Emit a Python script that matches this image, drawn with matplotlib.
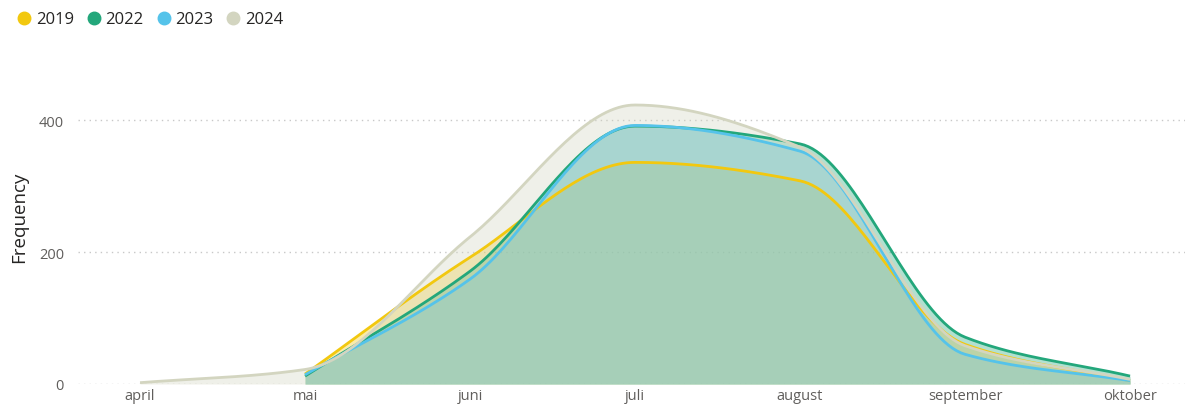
import numpy as np
import matplotlib.pyplot as plt
from matplotlib.lines import Line2D

plt.rcParams['font.family'] = ['Open Sans', 'DejaVu Sans']

months = ['april', 'mai', 'juni', 'juli', 'august', 'september', 'oktober']
years = ['2019', '2022', '2023', '2024']
freq_2019 = [np.nan, 15, 192, 336, 308, 60, 5]
freq_2022 = [np.nan, 12, 171, 391, 364, 71, 12]
freq_2023 = [np.nan, 14, 159, 392, 353, 45, 5]
freq_2024 = [2, 22, 223, 423, 359, 58, 7]
colors = ['#F2C80F', '#23A77B', '#55C3EA', '#D3D5C0']


def pchip(x, y, n=40):
    # monotone cubic for a smooth line like the original
    x = np.asarray(x, float)
    y = np.asarray(y, float)
    h = np.diff(x)
    d = np.diff(y) / h
    m = np.zeros_like(y)
    m[0], m[-1] = d[0], d[-1]
    for i in range(1, len(y) - 1):
        if d[i - 1] * d[i] > 0:
            w1 = 2 * h[i] + h[i - 1]
            w2 = h[i] + 2 * h[i - 1]
            m[i] = (w1 + w2) / (w1 / d[i - 1] + w2 / d[i])
    xs, ys = [], []
    for i in range(len(x) - 1):
        t = np.linspace(0, 1, n, endpoint=(i == len(x) - 2))
        h00 = 2 * t**3 - 3 * t**2 + 1
        h10 = t**3 - 2 * t**2 + t
        h01 = -2 * t**3 + 3 * t**2
        h11 = t**3 - t**2
        xs.append(x[i] + t * h[i])
        ys.append(h00 * y[i] + h10 * h[i] * m[i] + h01 * y[i + 1] + h11 * h[i] * m[i + 1])
    return np.concatenate(xs), np.concatenate(ys)


fig = plt.figure(figsize=(11.89, 4.14), dpi=100)
ax = fig.add_axes([78 / 1189, 29 / 414, 1107 / 1189, 310 / 414])

series = [freq_2019, freq_2022, freq_2023, freq_2024]
curves = []
for vals in series:
    v = np.array(vals, float)
    idx = np.arange(len(months))
    ok = ~np.isnan(v)
    curves.append(pchip(idx[ok], v[ok]))

for (xs, ys), c in zip(curves, colors):
    ax.fill_between(xs, 0, ys, color=c, alpha=0.35, lw=0, zorder=1)
for (xs, ys), c in zip(curves, colors):
    ax.plot(xs, ys, color=c, lw=2, zorder=3, solid_capstyle='butt')

ax.set_xlim(-0.376, 6.333)
ax.set_ylim(0, 470)
ax.set_yticks([0, 200, 400])
ax.set_xticks(range(len(months)))
ax.set_xticklabels(months)
ax.grid(axis='y', color='#C8C8C8', linestyle=(0, (1, 3)), lw=1)
ax.set_axisbelow(True)
for s in ax.spines.values():
    s.set_visible(False)
ax.tick_params(length=0, labelsize=10.5, colors='#605E5C')
ax.tick_params(axis='y', pad=10)
ax.tick_params(axis='x', pad=3)
ax.set_ylabel('Frequency', fontsize=13.5, color='#252423')
ax.yaxis.set_label_coords(-50 / 1107, 0.54)

handles = [Line2D([], [], marker='o', ls='', color=c, markersize=9) for c in colors]
fig.legend(handles, years, loc='upper left', bbox_to_anchor=(0.0, 1.0), ncol=4,
           frameon=False, fontsize=12, handletextpad=0.0, columnspacing=0.5,
           borderaxespad=0.35, labelcolor='#252423', handlelength=1.4)

fig.savefig('out.png', dpi=100)
